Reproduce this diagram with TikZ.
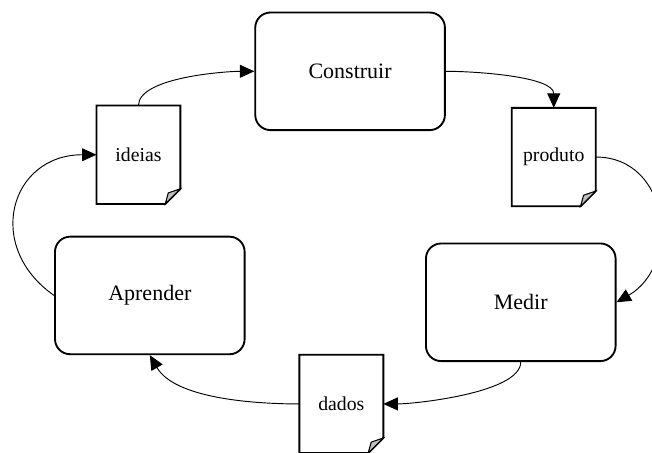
\documentclass[tikz,border=0pt]{standalone}
\usepackage{fontspec}
\setmainfont{Liberation Serif}
\usetikzlibrary{arrows.meta}

\begin{document}
\begin{tikzpicture}[
        box/.style={
            rectangle,
            draw=black,
            line width=1.4pt,
            rounded corners=0.4cm,
            minimum width=5cm,
            minimum height=3.1cm,
            align=center,
            fill=white,
            font=\fontsize{16.5}{20}\selectfont
        },
        doc/.style={
            rectangle,
            minimum width=2.2cm,
            minimum height=2.58cm,
            inner sep=0pt,
            align=center,
            font=\fontsize{14.8}{18}\selectfont
        },
        docline/.style={
            draw=black,
            line width=1.4pt,
            line join=miter
        },
        fold/.style={
            fill=black!25,
            draw=black,
            line width=0.8pt
        },
        arrow/.style={
            -{Triangle[length=0.38cm, width=0.34cm]},
            line width=0.7pt,
            draw=black
        }
    ]

    \useasboundingbox (0, 0) rectangle (17.19, 11.92);

    \node[box] (construir) at (9.23, 10.04) {Construir};
    \node[box] (medir)     at (13.73, 3.95) {Medir};
    \node[box] (aprender)  at (3.95, 4.13)  {Aprender};

    \node[doc] (ideias)  at (3.65, 7.84)  {ideias};
    \node[doc] (produto) at (14.60, 7.78) {produto};
    \node[doc] (dados)   at (9.00, 1.27)  {dados};

    % folha com canto dobrado
    \foreach \d in {ideias, produto, dados} {
        \draw[docline] (\d.north west) -- (\d.north east) -- ([yshift=0.4cm]\d.south east)
            -- ([xshift=-0.4cm]\d.south east) -- (\d.south west) -- cycle;
        \draw[fold] ([xshift=-0.4cm]\d.south east) -- ([yshift=0.4cm]\d.south east)
            -- ([xshift=-0.32cm, yshift=0.29cm]\d.south east) -- cycle;
    }

    \draw[arrow] (ideias.north) to[out=90, in=180, looseness=0.6] (construir.west);
    \draw[arrow] (construir.east) to[out=0, in=90, looseness=0.7] (produto.north);
    \draw[arrow] (produto.east) to[out=0, in=30, looseness=1.3] (medir.east);
    \draw[arrow] (medir.south) to[out=-90, in=0, looseness=0.55] (dados.east);
    \draw[arrow] (dados.west) to[out=180, in=-60, looseness=0.8] (aprender.south);
    \draw[arrow] (aprender.west) to[out=145, in=180, looseness=1.5] (ideias.west);

\end{tikzpicture}
\end{document}
